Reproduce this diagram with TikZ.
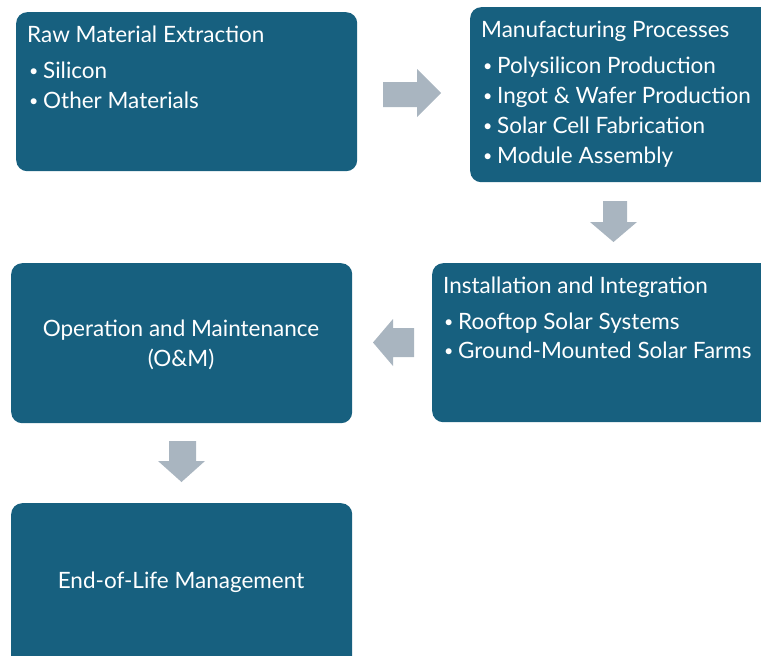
\documentclass[tikz,border=0pt]{standalone}
\usepackage{fontspec}
\setmainfont{Lato}
\definecolor{boxblue}{HTML}{17607F}
\definecolor{flowgray}{HTML}{A9B5C0}
% small list bullet with a fixed advance
\newcommand\listdot{\makebox[14pt][l]{\raisebox{1.6pt}{\fontsize{16}{16}\selectfont •}}}
\begin{document}
\begin{tikzpicture}[x=1pt,y=-1pt,
  stage/.style={fill=boxblue,draw=none,rounded corners=11pt},
  flow/.style={fill=flowgray,draw=none},
  txt/.style={text=white,font=\fontsize{22.5}{27}\selectfont,inner sep=0pt,anchor=base west},
  ctxt/.style={text=white,font=\fontsize{22.5}{27}\selectfont,inner sep=0pt,anchor=base}]
\useasboundingbox (0,0) rectangle (761,656);
\clip (0,0) rectangle (761,656);

% stage boxes
\node[stage,anchor=north west,minimum width=341pt,minimum height=159pt] (raw) at (16,12) {};
\node[stage,anchor=north west,minimum width=310pt,minimum height=175pt] (mfg) at (470,7) {};
\node[stage,anchor=north west,minimum width=350pt,minimum height=159pt] (inst) at (432,263) {};
\node[stage,anchor=north west,minimum width=341pt,minimum height=160pt] (om) at (11,263) {};
\node[stage,anchor=north west,minimum width=341pt,minimum height=175pt] (eol) at (11,503) {};

% texts
\node[txt] (rawT) at (27,42) {Raw Material Extraction};
\node[txt] (rawA) at (29,78) {\listdot Silicon};
\node[txt] (rawB) at (29,108) {\listdot Other Materials};

\node[txt] (mfgT) at (481,37) {Manufacturing Processes};
\node[txt] (mfgA) at (483,73) {\listdot Polysilicon Production};
\node[txt] (mfgB) at (483,103) {\listdot Ingot \& Wafer Production};
\node[txt] (mfgC) at (483,133) {\listdot Solar Cell Fabrication};
\node[txt] (mfgD) at (483,163) {\listdot Module Assembly};

\node[txt] (instT) at (443,293) {Installation and Integration};
\node[txt] (instA) at (444,329) {\listdot Rooftop Solar Systems};
\node[txt] (instB) at (444,358) {\listdot Ground-Mounted Solar Farms};

\node[ctxt] (omA) at (181,336) {Operation and Maintenance};
\node[ctxt] (omB) at (181,366) {(O\&M)};

\node[ctxt] (eolT) at (181,588) {End-of-Life Management};

% block arrows between the stages
\fill[flow] (383,82) -- (417,82) -- (417,69) -- (441,93) -- (417,117) -- (417,107) -- (383,107) -- cycle;
\fill[flow] (603,201) -- (627,201) -- (627,222) -- (637,222) -- (613.5,242) -- (590,222) -- (603,222) -- cycle;
\fill[flow] (414,328) -- (393,328) -- (393,319) -- (373,342.5) -- (393,366) -- (393,357) -- (414,357) -- cycle;
\fill[flow] (169,441) -- (196,441) -- (196,461) -- (205,461) -- (181.5,482) -- (158,461) -- (169,461) -- cycle;
\end{tikzpicture}
\end{document}
